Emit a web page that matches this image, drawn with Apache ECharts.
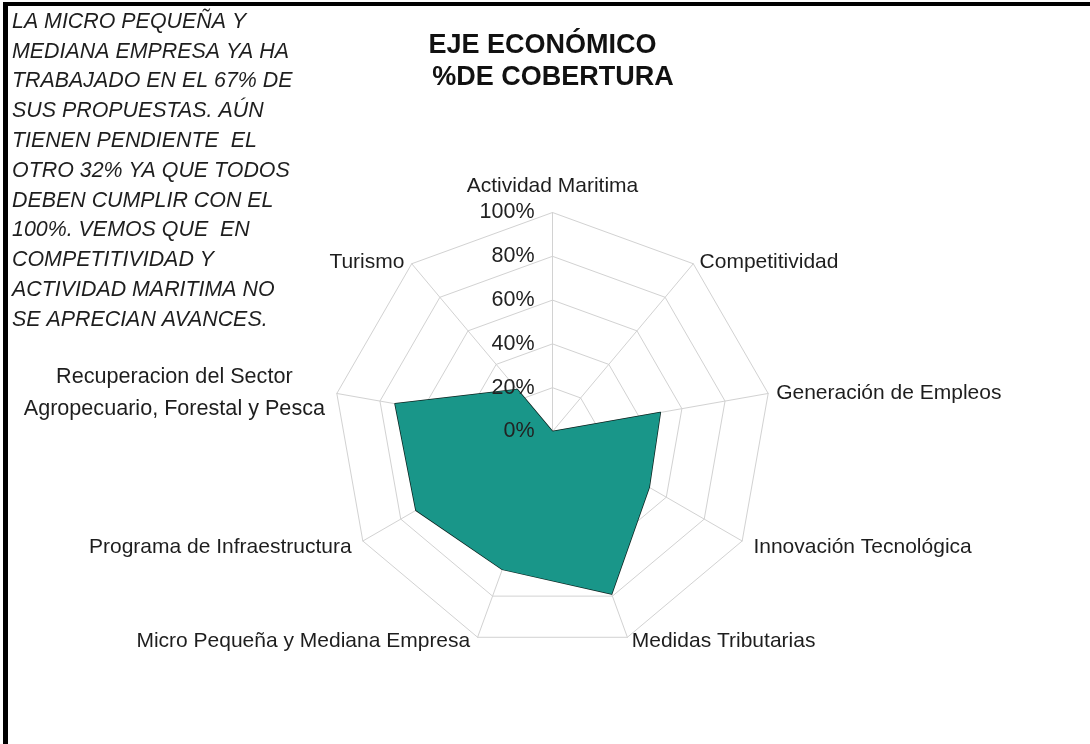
<!DOCTYPE html>
<html>
<head>
<meta charset="utf-8">
<script src="https://cdn.jsdelivr.net/npm/echarts@6/dist/echarts.min.js"></script>
<style>
html,body{margin:0;padding:0;background:#fff;}
#chart{width:1090px;height:744px;}
</style>
</head>
<body>
<div id="chart"></div>
<script>
// Categories in clockwise order starting at the top
const categories = [
  'Actividad Maritima',
  'Competitividad',
  'Generación de Empleos',
  'Innovación Tecnológica',
  'Medidas Tributarias',
  'Micro Pequeña y Mediana Empresa',
  'Programa de Infraestructura',
  'Recuperacion del Sector\nAgropecuario, Forestal y Pesca',
  'Turismo'
];
const coverage = [0, 0, 50, 51, 79, 67, 72, 73, 25];
const ringTicks = [0, 20, 40, 60, 80, 100];
const titleLines = ['EJE ECONÓMICO', '%DE COBERTURA'];
const noteText = [
  'LA MICRO PEQUEÑA Y',
  'MEDIANA EMPRESA YA HA',
  'TRABAJADO EN EL 67% DE',
  'SUS PROPUESTAS. AÚN',
  'TIENEN PENDIENTE  EL',
  'OTRO 32% YA QUE TODOS',
  'DEBEN CUMPLIR CON EL',
  '100%. VEMOS QUE  EN',
  'COMPETITIVIDAD Y',
  'ACTIVIDAD MARITIMA NO',
  'SE APRECIAN AVANCES.'
];

// ECharts radar places indicators counter-clockwise; reorder to get clockwise layout
const order = [0].concat(categories.map((c, i) => i).slice(1).reverse());
const FONT = '"Liberation Sans", Arial, sans-serif';
// per-indicator label placement tweaks (index into categories)
const nameGaps = { 0: 16, 1: 2, 2: 3, 3: 13, 4: 4, 5: 4, 6: 13, 7: 2, 8: 2 };
const nameStyles = {
  1: { padding: [0, 0, 0, 5] },
  2: { padding: [0, 0, 0, 5] },
  4: { padding: [0, 0, 0, 3] },
  5: { padding: [0, 6, 0, 0] },
  7: { align: 'center', padding: [0, 321, 0, 0], lineHeight: 32, fontSize: 21.6 },
  8: { padding: [0, 6, 0, 0] }
};
const indicators = order.map(i => {
  const ind = { name: categories[i], min: 0, max: ringTicks[ringTicks.length - 1] };
  if (nameGaps[i] !== undefined) ind.nameGap = nameGaps[i];
  if (nameStyles[i]) ind.nameTextStyle = nameStyles[i];
  return ind;
});
const values = order.map(i => coverage[i]);

const chart = echarts.init(document.getElementById('chart'), null, { renderer: 'canvas' });
chart.setOption({
  backgroundColor: '#ffffff',
  animation: false,
  textStyle: { fontFamily: FONT },
  title: [
    {
      text: noteText.join('\n'),
      left: 12, top: 7, padding: 0,
      textStyle: { fontFamily: FONT, fontSize: 21.4, fontStyle: 'italic', fontWeight: 'normal', color: '#1e1e1e', lineHeight: 29.8 }
    },
    {
      text: titleLines[0],
      left: 542.5, top: 32, padding: 0, textAlign: 'center',
      textStyle: { fontFamily: FONT, fontSize: 27, fontWeight: 'bold', color: '#111', lineHeight: 27 }
    },
    {
      text: titleLines[1],
      left: 553, top: 64, padding: 0, textAlign: 'center',
      textStyle: { fontFamily: FONT, fontSize: 27, fontWeight: 'bold', color: '#111', lineHeight: 27 }
    }
  ],
  graphic: [
    { type: 'rect', shape: { x: 3, y: 2, width: 1087, height: 4 }, style: { fill: '#000' }, silent: true },
    { type: 'rect', shape: { x: 3, y: 2, width: 5, height: 742 }, style: { fill: '#000' }, silent: true }
  ],
  grid: { left: 552.5, top: 212.5, width: 1, height: 219, containLabel: false },
  xAxis: { type: 'value', show: false, min: 0, max: 1 },
  yAxis: {
    type: 'value', min: ringTicks[0], max: ringTicks[ringTicks.length - 1], interval: 20,
    z: 10,
    axisLine: { show: false }, axisTick: { show: false }, splitLine: { show: false },
    axisLabel: { formatter: '{value}%', margin: 18, fontSize: 21.5, color: '#222', fontFamily: FONT }
  },
  radar: {
    center: [552.5, 431.5],
    radius: 219,
    startAngle: 90,
    splitNumber: 5,
    shape: 'polygon',
    indicator: indicators,
    nameGap: 9,
    axisName: { color: '#1e1e1e', fontSize: 21, fontFamily: FONT },
    axisLine: { lineStyle: { color: '#d2d2d2', width: 1 } },
    splitLine: { lineStyle: { color: '#d2d2d2', width: 1 } },
    splitArea: { show: false },
    axisLabel: { show: false },
    axisTick: { show: false }
  },
  series: [{
    type: 'radar',
    z: 2,
    symbol: 'none',
    lineStyle: { color: '#0e2622', width: 1.5 },
    areaStyle: { color: '#199689', opacity: 1 },
    data: [{ value: values, name: '% de cobertura' }]
  }]
});
</script>
</body>
</html>
